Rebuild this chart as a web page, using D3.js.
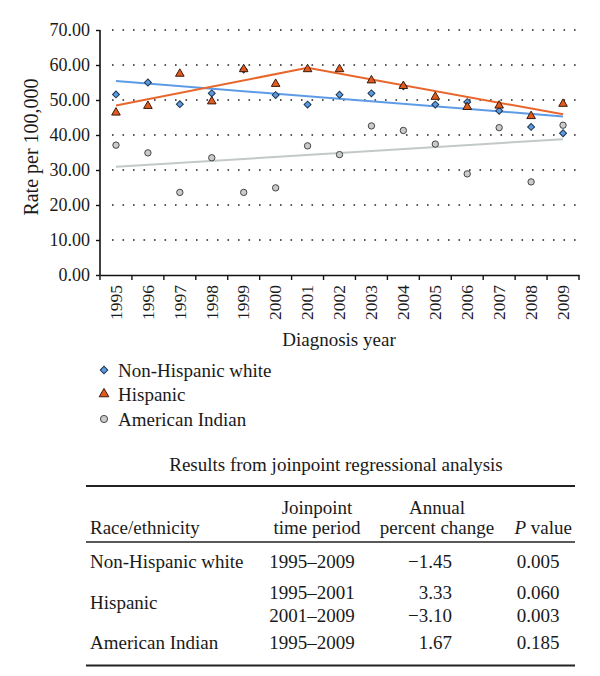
<!DOCTYPE html>
<html><head><meta charset="utf-8">
<script src="https://cdn.jsdelivr.net/npm/d3@7"></script>
<style>
body{margin:0;background:#fff;}
svg{display:block;}
text{font-family:"Liberation Serif","Times New Roman",serif;fill:#1a1a1a;}
</style></head>
<body><svg id="c" width="600" height="676"></svg>
<script>
const years = ["1995","1996","1997","1998","1999","2000","2001","2002","2003","2004","2005","2006","2007","2008","2009"];
const white = [51.6, 55.0, 48.8, 51.9, 58.7, 51.4, 48.7, 51.5, 51.9, 53.9, 48.7, 49.4, 46.9, 42.3, 40.5];
const hispanic = [46.4, 48.3, 57.5, 49.6, 58.8, 54.6, 58.8, 58.8, 55.6, 54.0, 50.9, 48.0, 48.4, 45.4, 48.9];
const indian = [37.1, 34.9, 23.6, 33.5, 23.6, 24.9, 36.9, 34.4, 42.6, 41.3, 37.4, 28.9, 42.1, 26.6, 42.8];
const whiteTrend = [["1995", 55.4], ["2009", 45.3]];
const hispanicTrend = [["1995", 48.4], ["2001", 59.2], ["2009", 45.9]];
const indianTrend = [["1995", 30.9], ["2009", 38.8]];
const yTicks = [0, 10, 20, 30, 40, 50, 60, 70];
const legendLabels = ["Non-Hispanic white", "Hispanic", "American Indian"];
const tableTitle = "Results from joinpoint regressional analysis";
const tableRace = ["Non-Hispanic white", "Hispanic", "", "American Indian"];
const tablePeriod = ["1995–2009", "1995–2001", "2001–2009", "1995–2009"];
const tableAPC = ["−1.45", "3.33", "−3.10", "1.67"];
const tableP = ["0.005", "0.060", "0.003", "0.185"];

const svg = d3.select("#c");
const x = d3.scaleBand().domain(years).range([100, 579]);
const y = d3.scaleLinear().domain([0, 70]).range([275, 30]);
const cx = d => x(d) + x.bandwidth() / 2;

// grid
svg.append("g").selectAll("line").data(yTicks.filter(t => t > 0)).join("line")
  .attr("x1", 112).attr("x2", 578).attr("y1", d => y(d)).attr("y2", d => y(d))
  .attr("stroke", "#222").attr("stroke-width", 1.6).attr("stroke-dasharray", "1.6,8.9");

// y axis
const ya = svg.append("g").attr("transform", "translate(100,0)")
  .call(d3.axisLeft(y).tickValues(yTicks).tickFormat(d3.format(".2f")).tickSize(4).tickPadding(6));
ya.select(".domain").attr("stroke", "#111").attr("stroke-width", 1.6).attr("d", "M0,30V275");
ya.selectAll(".tick line").attr("stroke", "#111").attr("stroke-width", 1.4);
ya.selectAll("text").style("font-size", "18px").style("font-family", "Liberation Serif").attr("fill", "#1a1a1a");

// x axis
const xa = svg.append("g").attr("transform", "translate(0,275)")
  .call(d3.axisBottom(x).tickSize(0).tickSizeOuter(0));
xa.select(".domain").attr("stroke", "#111").attr("stroke-width", 1.6);
xa.selectAll(".tick text").attr("transform", "rotate(-90)")
  .attr("x", -10).attr("y", 0).attr("dy", "0.33em").attr("text-anchor", "end")
  .style("font-size", "17.5px").style("font-family", "Liberation Serif").attr("fill", "#1a1a1a");
svg.append("g").selectAll("line").data(years.concat(["end"])).join("line")
  .attr("x1", (d, i) => 100 + i * x.bandwidth()).attr("x2", (d, i) => 100 + i * x.bandwidth())
  .attr("y1", 275).attr("y2", 280).attr("stroke", "#111").attr("stroke-width", 1.4);

// axis titles
svg.append("text").attr("transform", "translate(38,147) rotate(-90)").attr("text-anchor", "middle")
  .style("font-size", "20px").text("Rate per 100,000");
svg.append("text").attr("x", 339).attr("y", 346).attr("text-anchor", "middle")
  .style("font-size", "19px").text("Diagnosis year");

// trend lines
const line = d3.line().x(d => cx(d[0])).y(d => y(d[1]));
svg.append("path").attr("d", line(indianTrend)).attr("fill", "none").attr("stroke", "#c3cac6").attr("stroke-width", 2);
svg.append("path").attr("d", line(whiteTrend)).attr("fill", "none").attr("stroke", "#5e9be6").attr("stroke-width", 2);
svg.append("path").attr("d", line(hispanicTrend)).attr("fill", "none").attr("stroke", "#e8662c").attr("stroke-width", 2);

const tri = d3.symbol().type(d3.symbolTriangle).size(32);
const circ = d3.symbol().type(d3.symbolCircle).size(32);
const blueFill = "#5b9be2", orangeFill = "#e35a1e", grayFill = "#c9cccb";

function drawPts(vals, gen, fill, stroke, rot) {
  svg.append("g").selectAll("path").data(vals).join("path")
    .attr("transform", (d, i) => `translate(${cx(years[i])},${y(d)})` + (rot ? " rotate(45)" : ""))
    .attr("d", gen()).attr("fill", fill).attr("stroke", stroke).attr("stroke-width", 1);
}
drawPts(indian, circ, grayFill, "#444", false);
drawPts(white, d3.symbol().type(d3.symbolSquare).size(24), blueFill, "#1f3550", true);
drawPts(hispanic, tri, orangeFill, "#3a1a0a", false);

// legend
const lg = svg.append("g");
const lgY = [370, 394, 419];
lg.append("path").attr("transform", `translate(104,${lgY[0]}) rotate(45)`).attr("d", d3.symbol().type(d3.symbolSquare).size(28)()).attr("fill", blueFill).attr("stroke", "#1f3550");
lg.append("path").attr("transform", `translate(104,${lgY[1]})`).attr("d", d3.symbol().type(d3.symbolTriangle).size(40)()).attr("fill", orangeFill).attr("stroke", "#3a1a0a");
lg.append("path").attr("transform", `translate(104,${lgY[2]})`).attr("d", d3.symbol().type(d3.symbolCircle).size(40)()).attr("fill", grayFill).attr("stroke", "#444");
lg.selectAll("text").data(legendLabels).join("text")
  .attr("x", 118).attr("y", (d, i) => lgY[i]).attr("dy", "0.35em")
  .style("font-size", "19px").text(d => d);

// table
const t = svg.append("g");
t.append("text").attr("x", 336).attr("y", 471).attr("text-anchor", "middle").style("font-size", "19px").text(tableTitle);
[[486, 1.8], [542, 1.4], [665.5, 1.8]].forEach(([yy, w]) => {
  t.append("line").attr("x1", 86).attr("x2", 575).attr("y1", yy).attr("y2", yy).attr("stroke", "#222").attr("stroke-width", w);
});
const hs = "19px";
t.append("text").attr("x", 90).attr("y", 534).style("font-size", hs).text("Race/ethnicity");
t.append("text").attr("x", 317).attr("y", 514).attr("text-anchor", "middle").style("font-size", hs).text("Joinpoint");
t.append("text").attr("x", 317).attr("y", 534).attr("text-anchor", "middle").style("font-size", hs).text("time period");
t.append("text").attr("x", 437).attr("y", 514).attr("text-anchor", "middle").style("font-size", hs).text("Annual");
t.append("text").attr("x", 437).attr("y", 534).attr("text-anchor", "middle").style("font-size", hs).text("percent change");
const pv = t.append("text").attr("x", 572).attr("y", 534).attr("text-anchor", "end").style("font-size", hs);
pv.append("tspan").style("font-style", "italic").text("P");
pv.append("tspan").text(" value");

const rowY = [568, 599, 621.5, 649];
const raceY = [568, 609, 0, 649];
t.selectAll(".race").data(tableRace).join("text").attr("class", "race")
  .attr("x", 90).attr("y", (d, i) => raceY[i]).style("font-size", hs).text(d => d);
t.selectAll(".per").data(tablePeriod).join("text").attr("class", "per")
  .attr("x", 312).attr("y", (d, i) => rowY[i]).attr("text-anchor", "middle").style("font-size", hs).text(d => d);
t.selectAll(".apc").data(tableAPC).join("text").attr("class", "apc")
  .attr("x", 452).attr("y", (d, i) => rowY[i]).attr("text-anchor", "end").style("font-size", hs).text(d => d);
t.selectAll(".pv").data(tableP).join("text").attr("class", "pv")
  .attr("x", 538).attr("y", (d, i) => rowY[i]).attr("text-anchor", "middle").style("font-size", hs).text(d => d);
</script></body></html>
